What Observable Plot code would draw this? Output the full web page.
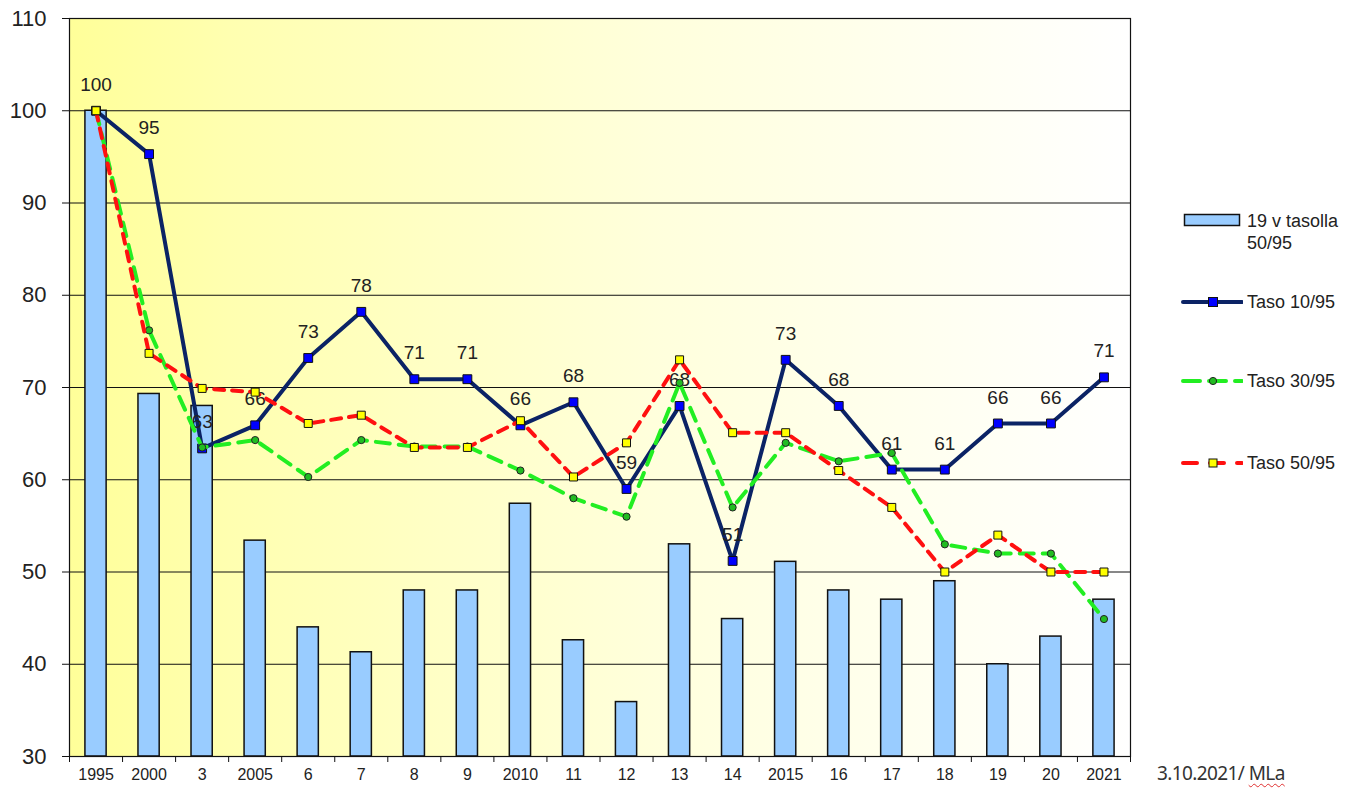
<!DOCTYPE html>
<html>
<head>
<meta charset="utf-8">
<script src="https://cdn.jsdelivr.net/npm/d3@7"></script>
<script src="https://cdn.jsdelivr.net/npm/@observablehq/plot@0.6"></script>
<style>
  html, body { margin: 0; padding: 0; background: #fff; }
  #wrap { position: relative; width: 1362px; height: 791px; font-family: "Liberation Sans", Arial, sans-serif; }
  .leg { position: absolute; font-size: 18px; color: #222; line-height: 22px; white-space: nowrap; }
  .sw { position: absolute; }
  #cap { position: absolute; left: 1157px; top: 760px; font-family: "Noto Sans", sans-serif; font-size: 19px; color: #333; white-space: nowrap; letter-spacing: -0.6px; }
  #cap span { text-decoration: underline wavy #e03030; text-decoration-thickness: 1px; text-underline-offset: 3px; }
</style>
</head>
<body>
<div id="wrap"></div>
<script>
// ---- data ----
const categories = ["1995","2000","3","2005","6","7","8","9","2010","11","12","13","14","2015","16","17","18","19","20","2021"];
const bar50 = [100, 69.3, 68, 53.4, 44, 41.3, 48, 48, 57.4, 42.6, 35.9, 53, 44.9, 51.1, 48, 47, 49, 40, 43, 47];
const taso10 = [100, 95.3, 63.4, 65.9, 73.2, 78.2, 70.9, 70.9, 65.9, 68.4, 59, 68, 51.2, 73, 68, 61.1, 61.1, 66.1, 66.1, 71.1];
const labels10 = [100, 95, 63, 66, 73, 78, 71, 71, 66, 68, 59, 68, 51, 73, 68, 61, 61, 66, 66, 71];
const taso30 = [100, 76.2, 63.5, 64.3, 60.3, 64.3, 63.6, 63.6, 61, 58, 56, 70.5, 57, 64, 62, 62.9, 53, 52, 52, 44.9];
const taso50 = [100, 73.7, 69.9, 69.5, 66.1, 67, 63.5, 63.5, 66.4, 60.3, 64, 73, 65.1, 65.1, 61, 57, 50, 54, 50, 50];
const yTicks = [30, 40, 50, 60, 70, 80, 90, 100, 110];
const seriesNames = ["19 v tasolla 50/95", "Taso 10/95", "Taso 30/95", "Taso 50/95"];

const rows = categories.map((c, i) => ({i, c, bar: bar50[i], t10: taso10[i], l10: labels10[i], t30: taso30[i], t50: taso50[i]}));
const idx = categories.map((_, i) => i);
const bounds = d3.range(-0.5, categories.length, 1);

const chart = Plot.plot({
  width: 1362,
  height: 791,
  marginLeft: 69,
  marginRight: 232,
  marginTop: 18,
  marginBottom: 35,
  x: {type: "linear", domain: [-0.5, categories.length - 0.5], label: null},
  y: {domain: [30, 110], label: null},
  style: {fontFamily: "'Liberation Sans', Arial, sans-serif", background: "transparent", color: "#222", overflow: "visible"},
  marks: [
    Plot.frame({fill: "url(#bggrad)"}),
    Plot.gridY({ticks: yTicks, stroke: "#111", strokeOpacity: 1, strokeWidth: 1}),
    Plot.rectY(rows, {x1: d => d.i - 0.2, x2: d => d.i + 0.2, y1: 30, y2: "bar", fill: "#99ccff", stroke: "#111", strokeWidth: 1.5}),
    Plot.frame({stroke: "#111", strokeWidth: 1.2}),
    Plot.axisY({ticks: yTicks, tickSize: 7, tickPadding: 16, fontSize: 22, stroke: "#111", tickFormat: d => d, label: null}),
    Plot.axisX({ticks: bounds, tickSize: 6, tickFormat: () => "", stroke: "#111", label: null}),
    Plot.axisX({ticks: idx, tickSize: 0, tickPadding: 12, fontSize: 16, tickFormat: i => categories[i], fill: "#222", label: null}),
    Plot.line(rows, {x: "i", y: "t10", stroke: "#0b2365", strokeWidth: 4}),
    Plot.dot(rows, {x: "i", y: "t10", symbol: "square", r: 5, fill: "#0000ff", stroke: "#111", strokeWidth: 1}),
    Plot.text(rows, {x: "i", y: "t10", text: "l10", dy: -26, fontSize: 19, fill: "#222"}),
    Plot.line(rows, {x: "i", y: "t30", stroke: "#22ee22", strokeWidth: 4, strokeDasharray: "14,9"}),
    Plot.dot(rows, {x: "i", y: "t30", r: 3.6, fill: "#22bb22", stroke: "#222", strokeWidth: 1}),
    Plot.line(rows, {x: "i", y: "t50", stroke: "#ff1010", strokeWidth: 4, strokeDasharray: "10,8"}),
    Plot.dot(rows, {x: "i", y: "t50", symbol: "square", r: 4.5, fill: "#ffff00", stroke: "#111", strokeWidth: 1})
  ]
});

// gradient background of plot area
const svgSel = d3.select(chart);
const grad = svgSel.insert("defs", ":first-child").append("linearGradient")
  .attr("id", "bggrad").attr("x1", "0").attr("x2", "1").attr("y1", "0").attr("y2", "0");
[[0, "#ffff99"], [0.15, "#ffffb0"], [0.55, "#ffffdc"], [1, "#ffffff"]].forEach(([o, c]) =>
  grad.append("stop").attr("offset", o).attr("stop-color", c));

const wrap = document.getElementById("wrap");
wrap.appendChild(chart);

// ---- legend ----
function addSwatch(top, kind) {
  const ns = "http://www.w3.org/2000/svg";
  const s = document.createElementNS(ns, "svg");
  s.setAttribute("width", 62); s.setAttribute("height", 16);
  s.setAttribute("class", "sw");
  s.style.left = "1181px"; s.style.top = (top - 8) + "px";
  let html = "";
  if (kind === 0) {
    html = '<rect x="3.5" y="2.5" width="55" height="11" fill="#99ccff" stroke="#111" stroke-width="1.5"/>';
  } else if (kind === 1) {
    html = '<line x1="2" x2="61" y1="8" y2="8" stroke="#0b2365" stroke-width="4" stroke-linecap="round"/>' +
           '<rect x="27.5" y="3.5" width="9" height="9" fill="#0000ff" stroke="#111"/>';
  } else if (kind === 2) {
    html = '<line x1="2" x2="61" y1="8" y2="8" stroke="#22ee22" stroke-width="4" stroke-dasharray="17,9" stroke-linecap="round"/>' +
           '<circle cx="32" cy="8" r="3.6" fill="#22bb22" stroke="#222"/>';
  } else {
    html = '<line x1="2" x2="61" y1="8" y2="8" stroke="#ff1010" stroke-width="4" stroke-dasharray="14,13" stroke-linecap="round"/>' +
           '<rect x="28" y="4" width="8" height="8" fill="#ffff00" stroke="#111"/>';
  }
  s.innerHTML = html;
  wrap.appendChild(s);
}
function addLabel(top, text) {
  const d = document.createElement("div");
  d.className = "leg";
  d.style.left = "1247px"; d.style.top = top + "px";
  d.innerHTML = text;
  wrap.appendChild(d);
}
addSwatch(220, 0);
addLabel(210, "19 v tasolla<br>50/95");
addSwatch(301.5, 1);
addLabel(290.5, seriesNames[1]);
addSwatch(381, 2);
addLabel(370, seriesNames[2]);
addSwatch(462.5, 3);
addLabel(451.5, seriesNames[3]);

const cap = document.createElement("div");
cap.id = "cap";
cap.innerHTML = "3.10.2021/ <span>MLa</span>";
wrap.appendChild(cap);
</script>
</body>
</html>
